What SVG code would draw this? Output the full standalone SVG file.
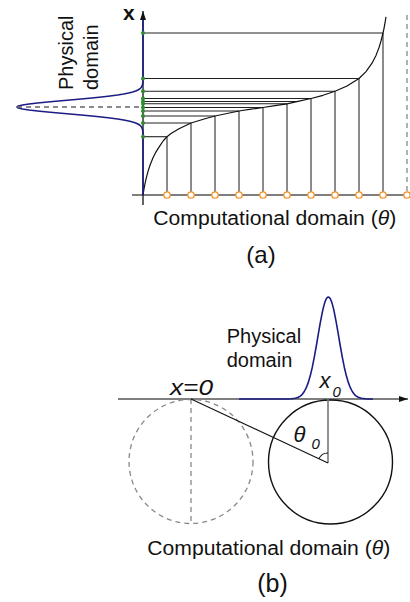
<svg xmlns="http://www.w3.org/2000/svg" width="410" height="602" viewBox="0 0 410 602">
<style>
text{font-family:"Liberation Sans",Arial,sans-serif;fill:#111}
.ax{stroke:#555;stroke-width:1.3;fill:none}
.hl{stroke:#222;stroke-width:1.1}
.vl{stroke:#5a5a5a;stroke-width:1.4}
.curve{stroke:#111;stroke-width:1.2;fill:none;stroke-linejoin:round}
.gauss{stroke:#1c1c85;stroke-width:1.6;fill:none;stroke-linejoin:round}
.gd{fill:#2e8b2e}
.oc{fill:#fff;stroke:#f5901e;stroke-width:1.3}
.dash{stroke:#888;stroke-width:1.3;stroke-dasharray:5 4;fill:none}
</style>
<defs>
<marker id="ah" markerWidth="10" markerHeight="8" refX="9" refY="4" orient="auto" markerUnits="userSpaceOnUse">
<path d="M0,1 L9,4 L0,7 Z" fill="#111"/>
</marker>
</defs>

<!-- Panel (a) -->
<g id="a-axes">
<line class="ax" x1="132" y1="195" x2="410" y2="195"/>
<line x1="143" y1="205" x2="143" y2="11" stroke="#111" stroke-width="1.3" marker-end="url(#ah)"/>
<line class="dash" x1="407" y1="15" x2="407" y2="195"/>
</g>
<g id="a-grid">
<line class="vl" x1="167" y1="195" x2="167" y2="136.7"/>
<line class="vl" x1="191" y1="195" x2="191" y2="123"/>
<line class="vl" x1="215" y1="195" x2="215" y2="116"/>
<line class="vl" x1="239" y1="195" x2="239" y2="111"/>
<line class="vl" x1="263" y1="195" x2="263" y2="107.5"/>
<line class="vl" x1="287" y1="195" x2="287" y2="103.8"/>
<line class="vl" x1="311" y1="195" x2="311" y2="98.5"/>
<line class="vl" x1="335" y1="195" x2="335" y2="91.2"/>
<line class="vl" x1="359" y1="195" x2="359" y2="78.5"/>
<line class="vl" x1="383" y1="195" x2="383" y2="33"/>
<line class="hl" x1="143" y1="33" x2="383" y2="33"/>
<line class="hl" x1="143" y1="78.5" x2="359" y2="78.5"/>
<line class="hl" x1="143" y1="91.2" x2="335" y2="91.2"/>
<line class="hl" x1="143" y1="98.5" x2="311" y2="98.5"/>
<line class="hl" x1="143" y1="101.5" x2="297" y2="101.5"/>
<line class="hl" x1="143" y1="103.8" x2="287" y2="103.8"/>
<line class="hl" x1="143" y1="107.5" x2="263" y2="107.5"/>
<line class="hl" x1="143" y1="111" x2="239" y2="111"/>
<line class="hl" x1="143" y1="116" x2="215" y2="116"/>
<line class="hl" x1="143" y1="123" x2="191" y2="123"/>
<line class="hl" x1="143" y1="136.7" x2="167" y2="136.7"/>
</g>
<g id="a-mapping-curve">
<path class="curve" d="M143,195 L144,188.8 L145,183.6 L146,179.2 L148,171.4 L150,165.2 L153,157.7 L156,151.8 L160,145.7 L163.5,140.5 L167,136.7 L171,133.5 L179,128.8 L191,123 L205,118.8 L215,116 L227,113.5 L239,111 L251,109.2 L263,107.5 L275,105.7 L287,103.8 L299,101.2 L311,98.5 L323,95.3 L335,91.2 L347,86 L359,78.5 L366,71.6 L372,63.2 L376,55.4 L379,47.6 L381,41 L383,33 L384,28.4 L385,22.9 L386,16.9"/>
</g>
<g id="a-physical-gaussian">
<path class="gauss" d="M143,20 L143,81 L142.8,83 L142.4,85 L141.5,87 L140.7,88 L139.6,89 L137.9,90 L135.7,91 L132.7,92 L128.7,93 L123.7,94 L117.6,95 L110.1,96 L101.5,97 L91.8,98 L81.1,99 L69.9,100 L58.5,101 L47.6,102 L37.5,103 L29,104 L22.5,105 L18.4,106 L17,107 L18.4,108 L22.5,109 L29,110 L37.5,111 L47.6,112 L58.5,113 L69.9,114 L81.1,115 L91.8,116 L101.5,117 L110.1,118 L117.6,119 L123.7,120 L128.7,121 L132.7,122 L135.7,123 L137.9,124 L139.6,125 L140.7,126 L141.5,127 L142.4,129 L142.8,131 L143,133 L143,195"/>
<line x1="17" y1="107" x2="143" y2="107" stroke="#666" stroke-width="1.3" stroke-dasharray="5 4"/>
</g>
<g id="a-points">
<circle class="gd" cx="143" cy="33" r="2"/>
<circle class="gd" cx="143" cy="78.5" r="2"/>
<circle class="gd" cx="143" cy="91.2" r="2"/>
<circle class="gd" cx="143" cy="98.5" r="2"/>
<circle class="gd" cx="143" cy="101.5" r="2"/>
<circle class="gd" cx="143" cy="103.8" r="2"/>
<circle class="gd" cx="143" cy="107.5" r="2"/>
<circle class="gd" cx="143" cy="111" r="2"/>
<circle class="gd" cx="143" cy="116" r="2"/>
<circle class="gd" cx="143" cy="123" r="2"/>
<circle class="gd" cx="143" cy="136.7" r="2"/>
<circle class="oc" cx="167" cy="195" r="3.2"/>
<circle class="oc" cx="191" cy="195" r="3.2"/>
<circle class="oc" cx="215" cy="195" r="3.2"/>
<circle class="oc" cx="239" cy="195" r="3.2"/>
<circle class="oc" cx="263" cy="195" r="3.2"/>
<circle class="oc" cx="287" cy="195" r="3.2"/>
<circle class="oc" cx="311" cy="195" r="3.2"/>
<circle class="oc" cx="335" cy="195" r="3.2"/>
<circle class="oc" cx="359" cy="195" r="3.2"/>
<circle class="oc" cx="383" cy="195" r="3.2"/>
<circle class="oc" cx="407" cy="195" r="3.2"/>
</g>
<g id="a-labels">
<text x="123" y="19.5" font-size="21" font-weight="bold">x</text>
<text transform="translate(73,90) rotate(-90)" font-size="20">Physical</text>
<text transform="translate(98,90) rotate(-90)" font-size="20">domain</text>
<text x="153.3" y="225" font-size="20" textLength="243" lengthAdjust="spacingAndGlyphs">Computational domain (<tspan font-style="italic">θ</tspan>)</text>
<text x="261" y="263" font-size="24" text-anchor="middle">(a)</text>
</g>

<!-- Panel (b) -->
<g id="b-axis">
<line class="ax" x1="118" y1="399" x2="408" y2="399" marker-end="url(#ah)"/>
</g>
<g id="b-dashed-circle">
<circle class="dash" cx="191" cy="461.5" r="62" stroke="#999"/>
<line class="dash" x1="191" y1="399" x2="191" y2="524" stroke="#999"/>
</g>
<g id="b-circle">
<circle cx="330.5" cy="462" r="62" fill="none" stroke="#111" stroke-width="1.4"/>
<line x1="328" y1="399" x2="328" y2="463" stroke="#777" stroke-width="1.6"/>
<path d="M318.9,458.8 A10,10 0 0 1 328,453" fill="none" stroke="#111" stroke-width="1.1"/>
</g>
<g id="b-connectors">
<line x1="191" y1="399" x2="328" y2="463" stroke="#111" stroke-width="1.1"/>
</g>
<g id="b-physical-gaussian">
<path class="gauss" d="M239,399 L288.3,399 L291.3,398.8 L295.3,398.3 L298.3,397.3 L300.3,396.1 L302.3,394.3 L304.3,391.5 L306.3,387.7 L308.3,382.4 L310.3,375.6 L312.3,367.2 L314.3,357.2 L316.3,346 L318.3,334.2 L320.3,322.7 L322.3,312.4 L323.3,307.9 L324.3,304.1 L325.3,301.1 L326.3,298.8 L327.3,297.5 L328.3,297 L329.3,297.5 L330.3,298.8 L331.3,301.1 L332.3,304.1 L333.3,307.9 L334.3,312.4 L336.3,322.7 L338.3,334.2 L340.3,346 L342.3,357.2 L344.3,367.2 L346.3,375.6 L348.3,382.4 L350.3,387.7 L352.3,391.5 L354.3,394.3 L356.3,396.1 L358.3,397.3 L361.3,398.3 L365.3,398.8 L368.3,399 L373,399"/>
</g>
<g id="b-labels">
<text x="226.7" y="343.3" font-size="20">Physical</text>
<text x="226.7" y="366.7" font-size="20">domain</text>
<text x="170" y="395" font-size="22" font-style="italic" textLength="43" lengthAdjust="spacingAndGlyphs">x=0</text>
<text x="319.5" y="388.3" font-size="22" font-style="italic">x</text>
<text x="332.5" y="396.7" font-size="15" font-style="italic">0</text>
<text x="293.5" y="441.7" font-size="22" font-style="italic">θ</text>
<text x="311.5" y="449.3" font-size="15" font-style="italic">0</text>
<text x="147.3" y="555" font-size="20" textLength="243" lengthAdjust="spacingAndGlyphs">Computational domain (<tspan font-style="italic">θ</tspan>)</text>
<text x="272.5" y="592" font-size="25" text-anchor="middle">(b)</text>
</g>
</svg>
